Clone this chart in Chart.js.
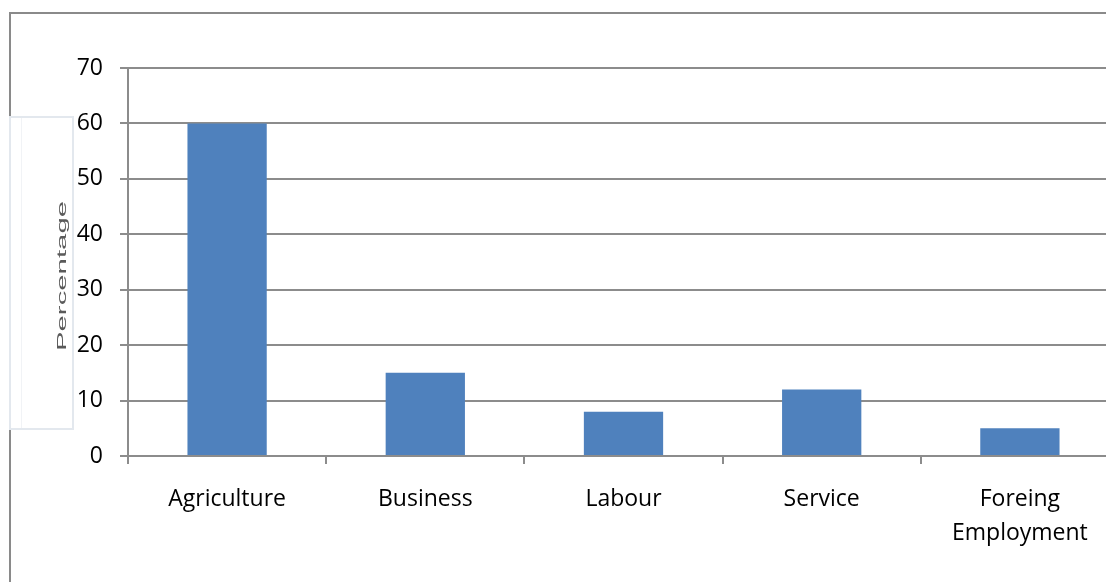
<!DOCTYPE html>
<html>
<head>
<meta charset="utf-8">
<script src="https://cdn.jsdelivr.net/npm/chart.js@4/dist/chart.umd.min.js"></script>
<style>
  html, body { margin: 0; padding: 0; background: #fff; overflow: hidden; width: 1106px; height: 582px; }
  canvas { display: block; }
</style>
</head>
<body>
<canvas id="c" width="1130" height="582"></canvas>
<script>
// Occupation of household heads (percentage)
const categories = ['Agriculture', 'Business', 'Labour', 'Service', ['Foreing', 'Employment']];
const percentages = [60, 15, 8, 12, 5];
const yTicks = [0, 10, 20, 30, 40, 50, 60, 70];
const yAxisTitle = 'Percentage';

const gridGrey = '#8c8c8c';
const labelFont = { family: '"Open Sans", "Liberation Sans", sans-serif', size: 23 };

// Outer frame and the side title box
const framePlugin = {
  id: 'frame',
  afterDraw(chart) {
    const ctx = chart.ctx;
    ctx.save();
    ctx.strokeStyle = '#8a8a8a';
    ctx.lineWidth = 2;
    ctx.beginPath();
    ctx.moveTo(10, 600);
    ctx.lineTo(10, 13);
    ctx.lineTo(1130, 13);
    ctx.stroke();

    // title box
    ctx.fillStyle = '#ffffff';
    ctx.fillRect(9, 116, 65, 314);
    ctx.strokeStyle = '#e3e8ee';
    ctx.lineWidth = 2;
    ctx.strokeRect(10, 117, 63, 312);
    ctx.strokeStyle = '#f1f3f6';
    ctx.lineWidth = 1;
    ctx.beginPath();
    ctx.moveTo(21.5, 118); ctx.lineTo(21.5, 428);
    ctx.stroke();

    // rotated, stretched title text
    ctx.translate(63, 276);
    ctx.rotate(-Math.PI / 2);
    ctx.font = '12px "Liberation Sans", sans-serif';
    const w = ctx.measureText(yAxisTitle).width;
    ctx.scale(150 / w, 1);
    ctx.fillStyle = '#5a5a5a';
    ctx.textAlign = 'center';
    ctx.textBaseline = 'middle';
    ctx.fillText(yAxisTitle, 0, 0);
    ctx.restore();
  }
};

new Chart(document.getElementById('c'), {
  type: 'bar',
  data: {
    labels: categories,
    datasets: [{
      data: percentages,
      backgroundColor: '#4f81bd',
      borderWidth: 0,
      categoryPercentage: 1,
      barPercentage: 0.4
    }]
  },
  options: {
    responsive: false,
    animation: false,
    devicePixelRatio: 1,
    layout: { padding: { top: 68, right: 11, left: 0, bottom: 0 } },
    plugins: { legend: { display: false }, tooltip: { enabled: false } },
    scales: {
      x: {
        afterFit(scale) { scale.height = 126; },
        grid: {
          offset: true,
          drawOnChartArea: false,
          drawTicks: true,
          tickLength: 8,
          color: gridGrey,
          lineWidth: 2
        },
        border: { color: gridGrey, width: 2 },
        ticks: {
          color: '#000',
          font: { ...labelFont, lineHeight: 1.45 },
          padding: 19,
          maxRotation: 0,
          autoSkip: false
        }
      },
      y: {
        min: 0,
        max: 70,
        afterFit(scale) { scale.width = 128; },
        afterBuildTicks(scale) { scale.ticks = yTicks.map(v => ({ value: v })); },
        grid: {
          color: gridGrey,
          lineWidth: 2,
          tickLength: 8
        },
        border: { color: gridGrey, width: 2 },
        ticks: {
          color: '#000',
          font: labelFont,
          padding: 17
        }
      }
    }
  },
  plugins: [framePlugin]
});
</script>
</body>
</html>
